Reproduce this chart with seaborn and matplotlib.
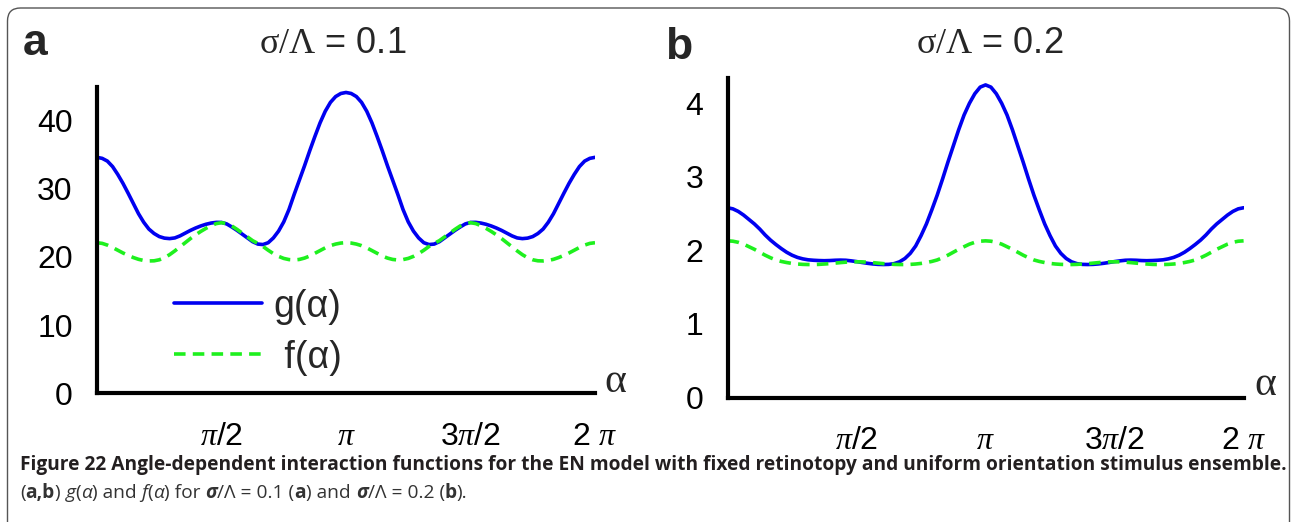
import numpy as np
import pandas as pd
import seaborn as sns
import matplotlib.pyplot as plt
from matplotlib.patches import FancyBboxPatch

# ------------------------------------------------------------------ #
# data (samples every pi/48 on [0, 2pi])
# ------------------------------------------------------------------ #
alpha = np.linspace(0, 2 * np.pi, 97)

# panel a : sigma/Lambda = 0.1
g_a = [34.55, 34.4, 34.0, 33.2, 32.05, 30.75, 29.3, 27.8, 26.3, 25.05, 24.05, 23.4, 22.95,
       22.72, 22.65, 22.75, 23.05, 23.45, 23.85, 24.2, 24.5, 24.75, 24.93, 25.03, 25.02,
       24.8, 24.35, 23.85, 23.3, 22.75, 22.2, 21.85, 21.78, 22.05, 22.75, 23.75, 25.1,
       26.9, 29.1, 31.2, 33.3, 35.5, 37.6, 39.6, 41.3, 42.6, 43.45, 43.9, 44.05,
       43.9, 43.45, 42.6, 41.3, 39.6, 37.6, 35.5, 33.3, 31.2, 29.1, 26.9, 25.1, 23.75,
       22.75, 22.05, 21.78, 21.85, 22.2, 22.75, 23.3, 23.85, 24.35, 24.8, 25.02, 25.03,
       24.93, 24.75, 24.5, 24.2, 23.85, 23.45, 23.05, 22.75, 22.65, 22.72, 22.95, 23.4,
       24.05, 25.05, 26.3, 27.8, 29.3, 30.75, 32.05, 33.2, 34.0, 34.4, 34.55]
f_a = [22.05, 21.95, 21.7, 21.35, 20.95, 20.55, 20.2, 19.88, 19.62, 19.45, 19.38, 19.4, 19.55,
       19.85, 20.3, 20.85, 21.45, 22.05, 22.65, 23.2, 23.7, 24.15, 24.55, 24.85, 24.98,
       24.85, 24.5, 24.0, 23.45, 22.9, 22.35, 21.95, 21.5, 20.95, 20.45, 20.05, 19.75,
       19.58, 19.52, 19.6, 19.8, 20.1, 20.5, 20.9, 21.3, 21.62, 21.85, 22.0, 22.05,
       22.0, 21.85, 21.62, 21.3, 20.9, 20.5, 20.1, 19.8, 19.6, 19.52, 19.58, 19.75, 20.05,
       20.45, 20.95, 21.5, 21.95, 22.35, 22.9, 23.45, 24.0, 24.5, 24.85, 24.98, 24.85,
       24.55, 24.15, 23.7, 23.2, 22.65, 22.05, 21.45, 20.85, 20.3, 19.85, 19.55, 19.4,
       19.38, 19.45, 19.62, 19.88, 20.2, 20.55, 20.95, 21.35, 21.7, 21.95, 22.05]

# panel b : sigma/Lambda = 0.2
g_b = [2.58, 2.565, 2.53, 2.48, 2.42, 2.36, 2.29, 2.21, 2.14, 2.08, 2.025, 1.975, 1.935,
       1.905, 1.885, 1.872, 1.866, 1.862, 1.86, 1.862, 1.866, 1.868, 1.866, 1.858, 1.848,
       1.836, 1.825, 1.816, 1.81, 1.808, 1.81, 1.82, 1.845, 1.89, 1.96, 2.06, 2.2,
       2.36, 2.55, 2.75, 2.97, 3.2, 3.42, 3.64, 3.84, 4.0, 4.13, 4.22, 4.25,
       4.22, 4.13, 4.0, 3.84, 3.64, 3.42, 3.2, 2.97, 2.75, 2.55, 2.36, 2.2, 2.06,
       1.96, 1.89, 1.845, 1.82, 1.81, 1.808, 1.81, 1.816, 1.825, 1.836, 1.848, 1.858,
       1.866, 1.868, 1.866, 1.862, 1.86, 1.862, 1.866, 1.872, 1.885, 1.905, 1.935, 1.975,
       2.025, 2.08, 2.14, 2.21, 2.29, 2.36, 2.42, 2.48, 2.53, 2.565, 2.58]
f_b = [2.13, 2.125, 2.11, 2.085, 2.05, 2.015, 1.975, 1.935, 1.90, 1.87, 1.85, 1.835, 1.823,
       1.815, 1.81, 1.808, 1.808, 1.81, 1.815, 1.82, 1.827, 1.834, 1.84, 1.844, 1.845,
       1.844, 1.84, 1.834, 1.827, 1.82, 1.815, 1.81, 1.808, 1.808, 1.81, 1.815, 1.823,
       1.835, 1.85, 1.87, 1.90, 1.935, 1.975, 2.015, 2.05, 2.085, 2.11, 2.125, 2.13,
       2.125, 2.11, 2.085, 2.05, 2.015, 1.975, 1.935, 1.90, 1.87, 1.85, 1.835, 1.823, 1.815,
       1.81, 1.808, 1.808, 1.81, 1.815, 1.82, 1.827, 1.834, 1.84, 1.844, 1.845, 1.844,
       1.84, 1.834, 1.827, 1.82, 1.815, 1.81, 1.808, 1.808, 1.81, 1.815, 1.823, 1.835,
       1.85, 1.87, 1.90, 1.935, 1.975, 2.015, 2.05, 2.085, 2.11, 2.125, 2.13]

x_ticks = [np.pi / 2, np.pi, 3 * np.pi / 2, 2 * np.pi]
x_ticklabels = [r'$\pi$/2', r'$\pi$', r'3$\pi$/2', r'2 $\pi$']
y_ticks_a = [0, 10, 20, 30, 40]
y_ticks_b = [0, 1, 2, 3, 4]
titles = [r'$\mathrm{\sigma/\Lambda}$ = 0.1', r'$\mathrm{\sigma/\Lambda}$ = 0.2']
curve_names = ['g(α)', ' f(α)']

caption_1 = ('Figure 22 Angle-dependent interaction functions for the EN model with fixed '
             'retinotopy and uniform orientation stimulus ensemble.')

# ------------------------------------------------------------------ #
# style
# ------------------------------------------------------------------ #
sns.set_theme(style='white')
plt.rcParams['font.family'] = ['Liberation Sans', 'DejaVu Sans']
plt.rcParams['mathtext.fontset'] = 'custom'
plt.rcParams['mathtext.rm'] = 'Liberation Serif'
plt.rcParams['mathtext.it'] = 'Liberation Serif:italic'
plt.rcParams['mathtext.bf'] = 'Liberation Serif:bold'

BLUE = '#0000f0'
GREEN = '#1ef01e'
palette = {curve_names[0]: BLUE, curve_names[1]: GREEN}
dashes = {curve_names[0]: '', curve_names[1]: (3.2, 2.0)}

W, H = 1291, 522
fig = plt.figure(figsize=(W / 100, H / 100), dpi=100)


def px_axes(left, right, y_zero, y_top):
    """axes from pixel positions (origin top-left)"""
    return fig.add_axes([left / W, 1 - y_zero / H, (right - left) / W, (y_zero - y_top) / H])


ax_a = px_axes(97, 595, 393.3, 87)
ax_b = px_axes(727.5, 1243.6, 397.5, 78.3)

panels = [
    (ax_a, g_a, f_a, y_ticks_a, 44.85, True),
    (ax_b, g_b, f_b, y_ticks_b, 4.34, False),
]
for ax, g, f, yt, ytop, show_legend in panels:
    df = pd.DataFrame({
        'alpha': np.concatenate([alpha, alpha]),
        'value': list(g) + list(f),
        'curve': [curve_names[0]] * len(alpha) + [curve_names[1]] * len(alpha),
    })
    sns.lineplot(data=df, x='alpha', y='value', hue='curve', style='curve',
                 palette=palette, dashes=dashes, linewidth=2.6, ax=ax,
                 legend=show_legend)
    ax.set_xlim(0, 2 * np.pi)
    ax.set_ylim(0, ytop)
    ax.set_xticks(x_ticks)
    ax.set_xticklabels(x_ticklabels)
    ax.set_yticks(yt)
    ax.set_xlabel('')
    ax.set_ylabel('')
    for s in ['top', 'right']:
        ax.spines[s].set_visible(False)
    for s in ['left', 'bottom']:
        ax.spines[s].set_linewidth(3)
        ax.spines[s].set_color('black')
    ax.tick_params(axis='both', direction='out', length=9.5, width=3, color='black',
                   labelsize=23, labelcolor='black')
    ax.tick_params(axis='y', pad=8)
    ax.tick_params(axis='x', pad=11)
    ax.patch.set_alpha(0)

# legend (panel a)
handles, labels = ax_a.get_legend_handles_labels()
ax_a.legend(handles, labels, loc='center left', bbox_to_anchor=(0.155, 0.2),
            frameon=False, borderpad=0, borderaxespad=0, handlelength=2.35,
            handletextpad=0.3, labelspacing=0.4, prop={'size': 27})

# titles, panel letters, alpha labels
fig.text(333 / W, 1 - 53 / H, titles[0], ha='center', va='baseline', size=26)
fig.text(990 / W, 1 - 53 / H, titles[1], ha='center', va='baseline', size=26)
fig.text(23 / W, 1 - 55 / H, 'a', ha='left', va='baseline', size=32, weight='bold')
fig.text(665 / W, 1 - 59 / H, 'b', ha='left', va='baseline', size=32, weight='bold')
fig.text(615.5 / W, 1 - 392 / H, 'α', ha='center', va='baseline', size=30,
         family='Liberation Serif')
fig.text(1265.5 / W, 1 - 395 / H, 'α', ha='center', va='baseline', size=30,
         family='Liberation Serif')

# frame around the figure panels
fig.add_artist(FancyBboxPatch((7.5 / 100, -0.3), (1289.5 - 7.5) / 100, (H - 8) / 100 + 0.3,
                              boxstyle='round,pad=0,rounding_size=0.13',
                              transform=fig.dpi_scale_trans, facecolor='none',
                              edgecolor='#555555', linewidth=1.0))

# ------------------------------------------------------------------ #
# caption
# ------------------------------------------------------------------ #
renderer = fig.canvas.get_renderer()
CAP_FONT = 'Open Sans'
x0, x1 = 20, 1284


def text_width(s, **kw):
    t1 = fig.text(0, 0, '|' + s + '|', **kw)
    t2 = fig.text(0, 0, '||', **kw)
    w = t1.get_window_extent(renderer).width - t2.get_window_extent(renderer).width
    t1.remove()
    t2.remove()
    return w


cap_size = 12.0
w = text_width(caption_1, family=CAP_FONT, weight='bold', size=cap_size)
cap_size = cap_size * (x1 - x0) / w
fig.text(x0 / W, 1 - 470 / H, caption_1, family=CAP_FONT, weight='bold',
         size=cap_size, color='#231f20', va='baseline')

n = dict(family=CAP_FONT, size=cap_size, color='#333333')
b = dict(family=CAP_FONT, size=cap_size, color='#333333', weight='bold')
i = dict(family=CAP_FONT, size=cap_size, color='#333333', style='italic')
bi = dict(family=CAP_FONT, size=cap_size, color='#333333', style='italic', weight='bold')
caption_2 = [('(', n), ('a,b', b), (') ', n), ('g', i), ('(', n), ('α', i), (') and ', n),
             ('f', i), ('(', n), ('α', i), (') for ', n), ('σ', bi), ('/Λ = 0.1 (', n),
             ('a', b), (') and ', n), ('σ', bi), ('/Λ = 0.2 (', n), ('b', b), (').', n)]
x = x0
for s, st in caption_2:
    fig.text(x / W, 1 - 498 / H, s, va='baseline', ha='left', **st)
    x += text_width(s, **st)

fig.savefig('out.png', dpi=100)
